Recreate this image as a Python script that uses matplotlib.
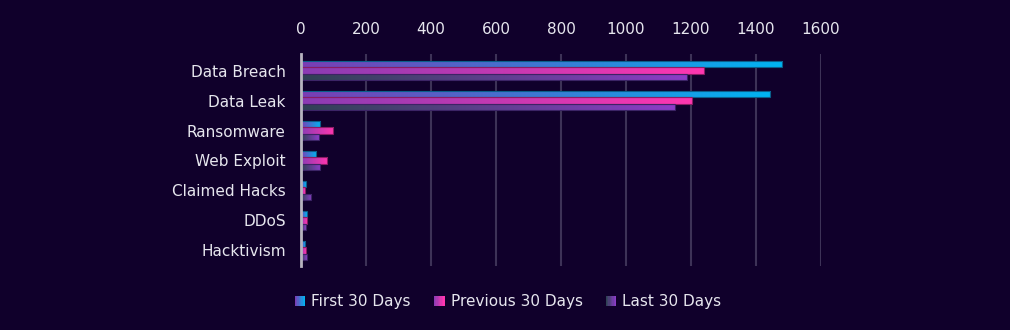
import matplotlib
matplotlib.use("Agg")
import matplotlib.pyplot as plt
import numpy as np
from matplotlib.colors import LinearSegmentedColormap
from matplotlib.legend_handler import HandlerBase
from matplotlib.patches import Rectangle

plt.rcParams['font.family'] = ['DejaVu Sans']

# Данные
categories = ["Data Breach", "Data Leak", "Ransomware", "Web Exploit",
              "Claimed Hacks", "DDoS", "Hacktivism"]
first_30 = [1480, 1443, 60, 47, 14, 18, 13]
previous_30 = [1240, 1203, 100, 81, 12, 18, 15]
last_30 = [1188, 1150, 55, 60, 31, 14, 18]
series_names = ["First 30 Days", "Previous 30 Days", "Last 30 Days"]
x_ticks = [0, 200, 400, 600, 800, 1000, 1200, 1400, 1600]

bg = "#10002b"
text_col = "#e6e6ee"
grads = [("#7b3db4", "#00b4f2"),
         ("#8a3cb4", "#ff36b0"),
         ("#2f4254", "#8c3cc8")]
edges = ["#0a5f8a", "#8a1d64", "#3c2466"]

fig = plt.figure(figsize=(10.1, 3.3), dpi=100, facecolor=bg)
ax = fig.add_axes([0.298, 0.194, 0.5149, 0.642], facecolor=bg)

y = np.arange(len(categories))
h = 0.217
grad = np.linspace(0, 1, 256).reshape(1, -1)

for i, vals in enumerate([first_30, previous_30, last_30]):
    cmap = LinearSegmentedColormap.from_list("g%d" % i, grads[i])
    offs = y + (i - 1) * h
    bars = ax.barh(offs, vals, height=h, facecolor="none",
                   edgecolor=edges[i], linewidth=0.8, zorder=4)
    for b in bars:
        x0, y0 = b.get_x(), b.get_y()
        w, hh = b.get_width(), b.get_height()
        im = ax.imshow(grad, cmap=cmap, aspect="auto",
                       extent=[x0, x0 + w, y0 + hh, y0], zorder=3)
        im.set_clip_path(b)

ax.set_xlim(0, 1600)
ax.set_ylim(6.52, -0.55)
ax.set_yticks(y)
ax.set_yticklabels(categories)
ax.set_xticks(x_ticks)
ax.xaxis.tick_top()
ax.tick_params(axis="both", length=0, colors=text_col, labelsize=11)
ax.tick_params(axis="x", pad=12)
ax.tick_params(axis="y", pad=11)

for s in ["top", "right", "bottom"]:
    ax.spines[s].set_visible(False)
ax.spines["left"].set_color("#b8b4c0")
ax.spines["left"].set_linewidth(2)
ax.spines["left"].set_zorder(5)

for t in x_ticks[1:]:
    ax.axvline(t, color="#3d3257", linewidth=1.5, zorder=1)


class GradHandler(HandlerBase):
    def __init__(self, c0, c1):
        super().__init__()
        self.c0, self.c1 = c0, c1

    def create_artists(self, legend, orig_handle, xdescent, ydescent,
                       width, height, fontsize, trans):
        cmap = LinearSegmentedColormap.from_list("lg", [self.c0, self.c1])
        n = 8
        side = height * 1.0
        x0 = width - side
        arts = []
        for k in range(n):
            arts.append(Rectangle((x0 + side * k / n - xdescent, -ydescent),
                                  side / n + 0.05, side,
                                  facecolor=cmap(k / (n - 1)),
                                  edgecolor="none", transform=trans))
        return arts


handles = [Rectangle((0, 0), 1, 1) for _ in series_names]
leg = fig.legend(handles, series_names, loc="center",
                 bbox_to_anchor=(0.503, 0.085), ncol=3, frameon=False,
                 fontsize=11, labelcolor=text_col, handlelength=0.7,
                 handletextpad=0.4, columnspacing=1.5,
                 handler_map={handles[i]: GradHandler(*grads[i])
                              for i in range(3)})

fig.savefig("out.png", dpi=100, facecolor=bg)
